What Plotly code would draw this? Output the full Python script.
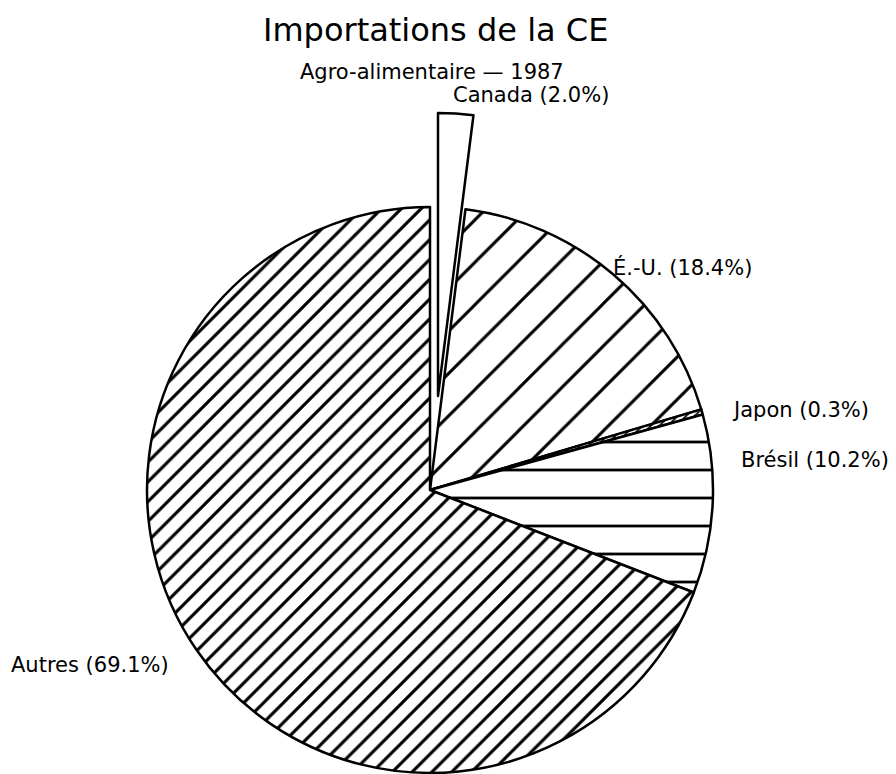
import plotly.graph_objects as go

# ---- data ----
labels = ["Canada", "É.-U.", "Japon", "Brésil", "Autres"]
values = [2.0, 18.4, 0.3, 10.2, 69.1]
label_texts = ["Canada (2.0%)", "É.-U. (18.4%)", "Japon (0.3%)", "Brésil (10.2%)", "Autres (69.1%)"]
title_text = "Importations de la CE"
subtitle_text = "Agro-alimentaire \u2014 1987"

W, H = 896, 774
FONT = "DejaVu Sans"
OFF = 8  # page body margin compensation

# main pie geometry (pixels, in window coordinates)
cx, cy, r = 430, 490, 283
# pulled Canada slice centre offset
dx, dy = 8, 94

def px(x):
    return (x - OFF) / W

def py(y):
    return 1 - (y - OFF) / H

def dom(cx_, cy_, r_):
    return dict(x=[px(cx_ - r_), px(cx_ + r_)],
                y=[py(cy_ + r_), py(cy_ - r_)])

shapes_ = ["", "/", "/", "-", "/"]
sizes_ = [10, 30, 6, 28, 14]
sol_ = [0.0, 0.1, 0.3, 0.1, 0.22]

fig = go.Figure()

# main pie (Canada slot left empty)
fig.add_trace(go.Pie(
    labels=labels, values=values, sort=False, direction="clockwise", rotation=0,
    textinfo="none", hoverinfo="label+percent",
    domain=dom(cx, cy, r),
    marker=dict(
        colors=["rgba(0,0,0,0)", "white", "white", "white", "white"],
        line=dict(color="black", width=[0, 2.5, 2.5, 2.5, 2.5]),
        pattern=dict(shape=shapes_, size=sizes_, solidity=sol_,
                     fgcolor="black", bgcolor="white", fillmode="replace"),
    ),
    showlegend=False,
))

# exploded Canada slice
fig.add_trace(go.Pie(
    labels=[labels[0], "reste"], values=[values[0], sum(values[1:])],
    sort=False, direction="clockwise", rotation=0,
    textinfo="none", hoverinfo="skip",
    domain=dom(cx + dx, cy - dy, r),
    marker=dict(colors=["white", "rgba(0,0,0,0)"],
                line=dict(color="black", width=[2.5, 0])),
    showlegend=False,
))

# label positions (window pixels)
label_pos = [(531, 95), (682, 267), (800, 410), (815, 460), (90, 665)]
annotations = []
for t, (x, y) in zip(label_texts, label_pos):
    annotations.append(dict(text=t, x=px(x), y=py(y), xref="paper", yref="paper",
                            showarrow=False, xanchor="center", yanchor="middle",
                            font=dict(family=FONT, size=21, color="black")))
annotations.append(dict(text=title_text, x=px(435), y=py(30), xref="paper", yref="paper",
                        showarrow=False, xanchor="center", yanchor="middle",
                        font=dict(family=FONT, size=32, color="black")))
annotations.append(dict(text=subtitle_text, x=px(432), y=py(72), xref="paper", yref="paper",
                        showarrow=False, xanchor="center", yanchor="middle",
                        font=dict(family=FONT, size=21, color="black")))

fig.update_layout(
    width=W, height=H,
    margin=dict(l=0, r=0, t=0, b=0),
    paper_bgcolor="white", plot_bgcolor="white",
    annotations=annotations,
)

fig.write_html("out.html")
